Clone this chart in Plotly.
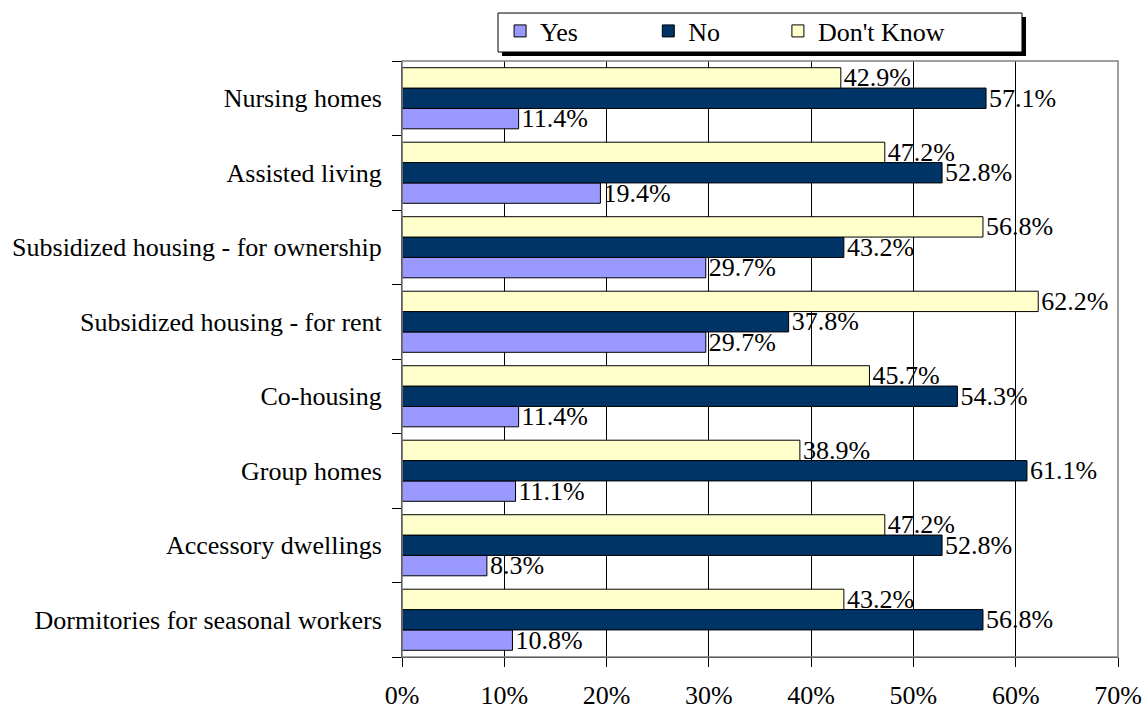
import plotly.graph_objects as go

# Housing types, listed bottom-to-top so the first one sits lowest on the axis
categories = [
    "Dormitories for seasonal workers",
    "Accessory dwellings",
    "Group homes",
    "Co-housing",
    "Subsidized housing - for rent",
    "Subsidized housing - for ownership",
    "Assisted living",
    "Nursing homes",
]
yes_pct = [10.8, 8.3, 11.1, 11.4, 29.7, 29.7, 19.4, 11.4]
no_pct = [56.8, 52.8, 61.1, 54.3, 37.8, 43.2, 52.8, 57.1]
dont_know_pct = [43.2, 47.2, 38.9, 45.7, 62.2, 56.8, 47.2, 42.9]

x_ticks = [0, 10, 20, 30, 40, 50, 60, 70]
x_tick_labels = [f"{v}%" for v in x_ticks]

FONT = "Liberation Serif, Times New Roman, serif"
FS = 26
# name, values, fill colour, legend id, legend x (paper)
series = [
    ("Yes", yes_pct, "#9999FF", "legend", 0.137),
    ("No", no_pct, "#003366", "legend2", 0.344),
    ("Don't Know", dont_know_pct, "#FFFFCC", "legend3", 0.525),
]

fig = go.Figure()
legend_layouts = {}
for name, vals, color, leg, lx in series:
    fig.add_trace(go.Bar(
        y=categories,
        x=vals,
        name=name,
        orientation="h",
        legend=leg,
        marker=dict(color=color, line=dict(color="black", width=1)),
        text=[f"{v:.1f}%" for v in vals],
        textposition="outside",
        textfont=dict(family=FONT, size=FS, color="black"),
        constraintext="none",
        cliponaxis=False,
    ))
    legend_layouts[leg] = dict(
        orientation="h", x=lx, xanchor="left", y=1.0503, yanchor="middle",
        bgcolor="rgba(0,0,0,0)", borderwidth=0,
        font=dict(family=FONT, size=FS),
    )

# plot frame (grey top/right) and legend box with drop shadow
shapes = [
    dict(type="rect", xref="paper", yref="paper", x0=0, x1=1, y0=0, y1=1,
         line=dict(color="#808080", width=1.5), layer="above"),
    dict(type="rect", xref="paper", yref="paper",
         x0=0.1397, x1=0.8715, y0=1.0084, y1=1.0738,
         fillcolor="black", line=dict(width=0), layer="below"),
    dict(type="rect", xref="paper", yref="paper",
         x0=0.1341, x1=0.8659, y0=1.0151, y1=1.0805,
         fillcolor="white", line=dict(color="black", width=1), layer="below"),
]

fig.update_layout(
    width=1142, height=710,
    margin=dict(l=402, r=24, t=61, b=53, autoexpand=False),
    paper_bgcolor="white", plot_bgcolor="white",
    barmode="group", bargap=0.18, bargroupgap=0,
    font=dict(family=FONT, size=FS, color="black"),
    showlegend=True,
    shapes=shapes,
    **legend_layouts,
)

fig.update_xaxes(
    range=[0, 70], tickvals=x_ticks, ticktext=x_tick_labels,
    showgrid=True, gridcolor="black", gridwidth=1,
    showline=True, linecolor="black", linewidth=1,
    ticks="outside", ticklen=9, tickcolor="black",
    ticklabelstandoff=6, zeroline=False, fixedrange=True, automargin=False,
)
fig.update_yaxes(
    categoryorder="array", categoryarray=categories,
    showline=True, linecolor="black", linewidth=1,
    ticks="outside", ticklen=9, tickcolor="black", tickson="boundaries",
    ticklabelstandoff=14, showgrid=False, fixedrange=True, automargin=False,
)

fig.write_html("out.html")
